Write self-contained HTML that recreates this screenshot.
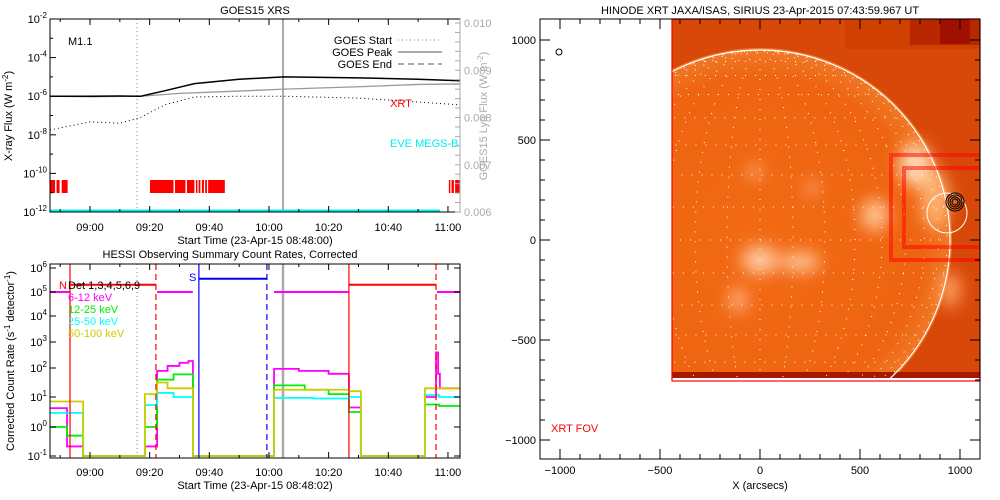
<!DOCTYPE html>
<html><head><meta charset="utf-8">
<style>
html,body{margin:0;padding:0;background:#fff;}
svg{display:block;font-family:"Liberation Sans",sans-serif;}
text{font-size:11px;}
</style></head>
<body>
<svg id="root" width="1000" height="500" viewBox="0 0 1000 500" xmlns="http://www.w3.org/2000/svg">
<defs>
<clipPath id="clipTop"><rect x="50" y="19" width="410" height="193"/></clipPath>
<clipPath id="clipBot"><rect x="50" y="264" width="410" height="194"/></clipPath>
<clipPath id="clipImg"><rect x="672" y="19" width="308" height="362"/></clipPath>
<clipPath id="clipMap"><rect x="540" y="19" width="440" height="440"/></clipPath>
<clipPath id="clipDisk"><circle cx="760" cy="240" r="190"/></clipPath>
<filter id="blur8"><feGaussianBlur stdDeviation="8"/></filter>
<radialGradient id="diskGrad" cx="0.5" cy="0.5" r="0.5">
<stop offset="0" stop-color="#f26a14"/><stop offset="0.85" stop-color="#ee6410"/><stop offset="1" stop-color="#f07a28"/>
</radialGradient>
</defs>

<!-- ================= TOP PANEL ================= -->
<g id="top">
<text x="255" y="14" text-anchor="middle" font-size="12">GOES15 XRS</text>
<g id="topSeries" clip-path="url(#clipTop)"></g>
<rect x="50" y="19" width="410" height="193" fill="none" stroke="#000" stroke-width="1"/>
<g id="topAxes"></g>
<text x="68" y="45">M1.1</text>
<g>
<text x="392" y="44" text-anchor="end">GOES Start</text>
<line x1="398" y1="40" x2="442" y2="40" stroke="#aaa" stroke-dasharray="1,3" stroke-width="1.5"/>
<text x="392" y="56" text-anchor="end">GOES Peak</text>
<line x1="398" y1="52" x2="442" y2="52" stroke="#aaa" stroke-width="2"/>
<text x="392" y="68" text-anchor="end">GOES End</text>
<line x1="398" y1="64" x2="442" y2="64" stroke="#aaa" stroke-dasharray="6,4" stroke-width="2"/>
</g>
<text x="390" y="107" fill="#f00">XRT</text>
<text x="390" y="147" fill="#0ee">EVE MEGS-B</text>
<text x="255" y="244" text-anchor="middle">Start Time (23-Apr-15 08:48:00)</text>
<text transform="translate(12,116) rotate(-90)" text-anchor="middle">X-ray Flux (W m<tspan dy="-4" font-size="8">-2</tspan><tspan dy="4">)</tspan></text>
<text transform="translate(487,116) rotate(-90)" text-anchor="middle" fill="#aaa">GOES15 Lyα Flux (W m<tspan dy="-4" font-size="8">-2</tspan><tspan dy="4">)</tspan></text>
</g>

<!-- ================= BOTTOM PANEL ================= -->
<g id="bot">
<text x="230" y="258" text-anchor="middle" font-size="12">HESSI Observing Summary Count Rates, Corrected</text>
<g id="botSeries" clip-path="url(#clipBot)"></g>
<rect x="50" y="264" width="410" height="194" fill="none" stroke="#000"/>
<g id="botAxes"></g>
<g>
<text x="68" y="289">Det 1,3,4,5,6,9</text>
<text x="68" y="301" fill="#f0f">6-12 keV</text>
<text x="68" y="313" fill="#0e0">12-25 keV</text>
<text x="68" y="325" fill="#0ff">25-50 keV</text>
<text x="68" y="337" fill="#cc0">50-100 keV</text>
</g>
<text x="59" y="289" fill="#f00">N</text>
<text x="189" y="281" fill="#00f">S</text>
<text x="255" y="489" text-anchor="middle">Start Time (23-Apr-15 08:48:02)</text>
<text transform="translate(14,361) rotate(-90)" text-anchor="middle">Corrected Count Rate (s<tspan dy="-4" font-size="8">-1</tspan><tspan dy="4"> detector</tspan><tspan dy="-4" font-size="8">-1</tspan><tspan dy="4">)</tspan></text>
</g>

<!-- ================= MAP PANEL ================= -->
<g id="map">
<text x="760" y="14" text-anchor="middle" font-size="12">HINODE XRT JAXA/ISAS, SIRIUS 23-Apr-2015 07:43:59.967 UT</text>
<g clip-path="url(#clipImg)">
<rect x="672" y="19" width="308" height="362" fill="#d84808"/>
<rect x="845" y="19" width="135" height="30" fill="#d04000"/>
<rect x="910" y="19" width="70" height="26" fill="#b82800"/>
<rect x="940" y="19" width="30" height="25" fill="#a01000"/>
<circle cx="760" cy="240" r="192" fill="url(#diskGrad)"/>
<g filter="url(#blur8)">
<ellipse cx="915" cy="165" rx="16" ry="22" fill="#ffd8b0"/>
<ellipse cx="935" cy="200" rx="14" ry="30" fill="#ffb070"/>
<ellipse cx="875" cy="215" rx="14" ry="16" fill="#ffc090"/>
<ellipse cx="760" cy="260" rx="18" ry="14" fill="#ffc8a0"/>
<ellipse cx="800" cy="262" rx="20" ry="10" fill="#ffc090"/>
<ellipse cx="738" cy="300" rx="9" ry="12" fill="#ffb080"/>
<ellipse cx="755" cy="172" rx="7" ry="6" fill="#ffc090"/>
<ellipse cx="812" cy="188" rx="6" ry="7" fill="#ffb080"/>
<ellipse cx="950" cy="290" rx="10" ry="18" fill="#ffa060"/>
</g>
<rect x="672" y="372" width="308" height="6" fill="#a81800"/>
<rect x="672" y="378" width="308" height="3" fill="#fff"/>
<g id="gridLines" clip-path="url(#clipDisk)"></g>
<circle cx="760" cy="240" r="190" fill="none" stroke="#fff" stroke-width="1.2"/>
</g>
<rect x="672" y="19" width="308" height="362" fill="none" stroke="#f00" stroke-width="1.2"/>
<g clip-path="url(#clipMap)">
<g fill="none" stroke="#f00" stroke-width="1">
<rect x="890" y="154" width="95" height="107"/><rect x="892" y="156" width="95" height="103"/>
<rect x="903" y="167" width="85" height="81"/><rect x="905" y="169" width="85" height="77"/>
</g>
</g>
<circle cx="947" cy="213" r="20" fill="none" stroke="#fff" stroke-width="1"/>
<g fill="none" stroke="#000" stroke-width="1">
<circle cx="955" cy="202" r="9"/><circle cx="955" cy="202" r="7"/><circle cx="955" cy="202" r="5"/><circle cx="955" cy="202" r="3"/>
</g>
<rect x="540" y="19" width="440" height="440" fill="none" stroke="#000"/>
<g id="mapAxes"></g>
<circle cx="559" cy="52" r="3" fill="none" stroke="#000"/>
<text x="551" y="432" fill="#f00">XRT FOV</text>
<text x="760" y="489" text-anchor="middle">X (arcsecs)</text>
</g>
</svg>

<script>
// ---------- TOP (GOES) data ----------
const goesTimes   = [46.6, 60, 70, 77, 85, 95, 110, 125, 150, 170, 184.1];   // minutes after 08:00
const goesLong    = [-6.0, -6.0, -5.99, -6.0, -5.72, -5.35, -5.12, -5.0, -5.05, -5.12, -5.2]; // log10 W/m2
const goesShort   = [-7.75, -7.33, -7.4, -7.1, -6.45, -6.04, -6.0, -6.0, -6.1, -6.3, -6.45];
const lyaTimes    = [46.6, 60, 77, 90, 110, 125, 150, 170, 184.1];
const lyaFlux     = [0.00845, 0.00844, 0.00845, 0.00851, 0.00856, 0.0086, 0.00865, 0.0087, 0.00871];
const xrtIntervals = [[46.6,48.3],[48.8,49.8],[50.5,52.5],[80.1,88],[88.5,92],[92.5,95],[95.5,96],[96.4,97],[97.5,98.2],[98.6,99.2],[99.6,105.2],[180.3,180.8],[181.2,182],[182.4,184.1]];
const goesStart = 75.8, goesPeak = 124.7;
const topTickLabels = ["09:00","09:20","09:40","10:00","10:20","10:40","11:00"];
const topTickTimes  = [60, 80, 100, 120, 140, 160, 180];
const topYExps = [-2,-4,-6,-8,-10,-12];
const lyaTicks = [0.006,0.007,0.008,0.009,0.010];

// ---------- BOTTOM (HESSI) data: [time, log10 rate] step points ----------
const band612  = [[46.6,0.63],[52.3,-0.67],[57.7,-1],[78.4,-0.67],[82.5,1.9],[86,2.08],[90,2.2],[93,2.27],[94.5,-1],[121.7,1.97],[130,1.9],[140,1.8],[146.8,0.65],[150.8,-1],[172.3,1.0],[176,2.6],[176.7,1.8],[177.3,1.3],[184.1,1.3]];
const band1225 = [[46.6,0.0],[52.3,-0.3],[57.7,-1],[78.4,0.0],[82.5,1.6],[88,1.78],[94.5,-1],[121.7,1.4],[132,1.25],[140,1.1],[146.8,0.5],[150.8,-1],[172.3,0.75],[177,0.7],[184.1,0.7]];
const band2550 = [[46.6,0.47],[57.7,-1],[78.4,0.73],[82.5,1.14],[88,1.0],[94.5,-1],[121.7,0.97],[135,0.95],[146.8,1.0],[150.8,-1],[172.3,1.07],[177,1.0],[184.1,1.0]];
const band50100= [[46.6,0.85],[57.7,-1],[78.4,1.1],[82.5,1.5],[86,1.3],[94.5,-1],[121.7,1.25],[146.8,1.2],[150.8,-1],[172.3,1.3],[184.1,1.3]];
const attenuator = [[46.6,53.3,5,"#f0f"],[53.3,82.1,5.3,"#f00"],[82.5,94.5,5,"#f0f"],[96.5,119.3,5.55,"#00f"],[121.7,146.8,5,"#f0f"],[146.8,176.0,5.3,"#f00"],[176.3,184.1,5,"#f0f"]];
const nightLines = [[53.3,"#f00",false],[82.1,"#f00",true],[96.5,"#00f",false],[119.3,"#00f",true],[146.8,"#f00",false],[176.0,"#f00",true]];
const botYExps = [6,5,4,3,2,1,0,-1];

// ---------- MAP data ----------
const mapTicks = [-1000,-500,0,500,1000];

const NS="http://www.w3.org/2000/svg";
function mk(tag, attrs, parent){const e=document.createElementNS(NS,tag);for(const k in attrs)e.setAttribute(k,attrs[k]);parent.appendChild(e);return e;}

// ---------- scales ----------
const xT = t => 90 + (t-60)*2.983;
const yTop = lg => 19 + (-2-lg)*19.3;
const yLya = v => 212 - (v-0.006)*47250;
const botPix = [268,292,316,342,368,397,427,456]; // axis calibration for decades 6..-1
function yBot(lg){const i=Math.max(0,Math.min(6,Math.floor(6-lg)));const f=(6-lg)-i;return botPix[i]+f*(botPix[i+1]-botPix[i]);}

// ---------- TOP render ----------
const tg=document.getElementById('topSeries');
const ta=document.getElementById('topAxes');
let l=mk('line',{x1:xT(goesStart),y1:19,x2:xT(goesStart),y2:212,stroke:'#aaa','stroke-dasharray':'1,3','stroke-width':1.5},tg);


l=mk('line',{x1:xT(goesPeak),y1:19,x2:xT(goesPeak),y2:212,stroke:'#aaa','stroke-width':2},tg);


xrtIntervals.forEach(iv=>{
  const r=mk('rect',{x:xT(iv[0]),y:180,width:Math.max(1,xT(iv[1])-xT(iv[0])),height:13,fill:'#f00'},tg);
  
  
});
l=mk('line',{x1:50,y1:211,x2:440,y2:211,stroke:'#0ee','stroke-width':3},tg);


let p=mk('polyline',{points:lyaTimes.map((t,i)=>xT(t)+','+yLya(lyaFlux[i])).join(' '),fill:'none',stroke:'#999','stroke-width':1.3},tg);


p=mk('polyline',{points:goesTimes.map((t,i)=>xT(t)+','+yTop(goesShort[i])).join(' '),fill:'none',stroke:'#000','stroke-dasharray':'1,3','stroke-width':1},tg);


p=mk('polyline',{points:goesTimes.map((t,i)=>xT(t)+','+yTop(goesLong[i])).join(' '),fill:'none',stroke:'#000','stroke-width':1.5},tg);


function timeAxis(par, y0, y1, labelY){
  for(let t=50;t<=184;t+=10){const big=(t%20===0);const x=xT(t);
    mk('line',{x1:x,y1:y1,x2:x,y2:y1-(big?6:3),stroke:'#000'},par);
    mk('line',{x1:x,y1:y0,x2:x,y2:y0+(big?6:3),stroke:'#000'},par);}
  topTickTimes.forEach((t,i)=>{const tx=mk('text',{x:xT(t),y:labelY,'text-anchor':'middle'},par);tx.textContent=topTickLabels[i];
    
    });
}
timeAxis(ta,19,212,231);
for(let e=-2;e>=-12;e--){const y=yTop(e);mk('line',{x1:50,y1:y,x2:(e%2===0)?56:53,y2:y,stroke:'#000'},ta);}
topYExps.forEach(e=>{const tx=mk('text',{x:47,y:yTop(e)+4,'text-anchor':'end'},ta);
  tx.innerHTML='10<tspan dy="-5" font-size="8">'+e+'</tspan>';
  
  });
for(let v=0.006;v<=0.01001;v+=0.0002){const y=yLya(v);mk('line',{x1:460,y1:y,x2:455,y2:y,stroke:'#aaa'},ta);}
mk('line',{x1:460,y1:19,x2:460,y2:212,stroke:'#aaa'},ta);
lyaTicks.forEach(v=>{const tx=mk('text',{x:464,y:yLya(v)+4,fill:'#aaa'},ta);tx.textContent=v.toFixed(3);
  
  });

// ---------- BOTTOM render ----------
const bg=document.getElementById('botSeries');
const ba=document.getElementById('botAxes');
l=mk('line',{x1:xT(goesStart),y1:264,x2:xT(goesStart),y2:458,stroke:'#aaa','stroke-dasharray':'1,3','stroke-width':1.5},bg);


l=mk('line',{x1:xT(goesPeak),y1:264,x2:xT(goesPeak),y2:458,stroke:'#aaa','stroke-width':2.5},bg);


function stepPts(arr){let s=[];for(let i=0;i<arr.length;i++){const x=xT(arr[i][0]),y=yBot(arr[i][1]);if(i>0)s.push(x+','+yBot(arr[i-1][1]));s.push(x+','+y);}return s.join(' ');}
[[band612,'#f0f','band-6-12kev'],[band1225,'#0e0','band-12-25kev'],[band2550,'#0ff','band-25-50kev'],[band50100,'#cc0','band-50-100kev']].forEach(b=>{
  const q=mk('polyline',{points:stepPts(b[0]),fill:'none',stroke:b[1],'stroke-width':1.8},bg);
  
  
});
attenuator.forEach(a=>{const q=mk('line',{x1:xT(a[0]),y1:yBot(a[2]),x2:xT(a[1]),y2:yBot(a[2]),stroke:a[3],'stroke-width':2},bg);
  
  });
nightLines.forEach(n=>{const a={x1:xT(n[0]),y1:264,x2:xT(n[0]),y2:458,stroke:n[1],'stroke-width':1.2};if(n[2])a['stroke-dasharray']='6,4';
  const q=mk('line',a,bg);
  
  });
timeAxis(ba,264,458,476);
botYExps.forEach(e=>{const y=yBot(e);mk('line',{x1:50,y1:y,x2:56,y2:y,stroke:'#000'},ba);mk('line',{x1:460,y1:y,x2:454,y2:y,stroke:'#000'},ba);
  const tx=mk('text',{x:47,y:y+4,'text-anchor':'end'},ba);tx.innerHTML='10<tspan dy="-5" font-size="8">'+e+'</tspan>';
  
  });

// ---------- MAP render ----------
const gl=document.getElementById('gridLines');
const cx=760,cy=240,R=190;
for(let lat=-80;lat<=80;lat+=10){const y=cy-R*Math.sin(lat*Math.PI/180);const w=R*Math.cos(lat*Math.PI/180);
  mk('line',{x1:cx-w,y1:y,x2:cx+w,y2:y,stroke:'#fff','stroke-dasharray':'1,9','stroke-width':1},gl);}
for(let lon=-80;lon<=80;lon+=10){let s=[];for(let lat=-90;lat<=90;lat+=5){s.push((cx+R*Math.cos(lat*Math.PI/180)*Math.sin(lon*Math.PI/180))+','+(cy-R*Math.sin(lat*Math.PI/180)));}
  mk('polyline',{points:s.join(' '),fill:'none',stroke:'#fff','stroke-dasharray':'1,9','stroke-width':1},gl);}
const ma=document.getElementById('mapAxes');
const mx=v=>760+v*0.2, my=v=>240-v*0.2;
for(let v=-1000;v<=1000;v+=100){const big=v%500===0;
  mk('line',{x1:mx(v),y1:459,x2:mx(v),y2:459-(big?10:5),stroke:'#000'},ma);
  mk('line',{x1:mx(v),y1:19,x2:mx(v),y2:19+(big?10:5),stroke:'#000'},ma);
  mk('line',{x1:540,y1:my(v),x2:540+(big?10:5),y2:my(v),stroke:'#000'},ma);
  mk('line',{x1:980,y1:my(v),x2:980-(big?10:5),y2:my(v),stroke:'#000'},ma);}
mapTicks.forEach(v=>{let tx=mk('text',{x:mx(v),y:474,'text-anchor':'middle'},ma);tx.textContent=String(v).replace('-','−');
  
  
  tx=mk('text',{x:536,y:my(v)+4,'text-anchor':'end'},ma);tx.textContent=String(v).replace('-','−');
  
  });
</script>
</body></html>
